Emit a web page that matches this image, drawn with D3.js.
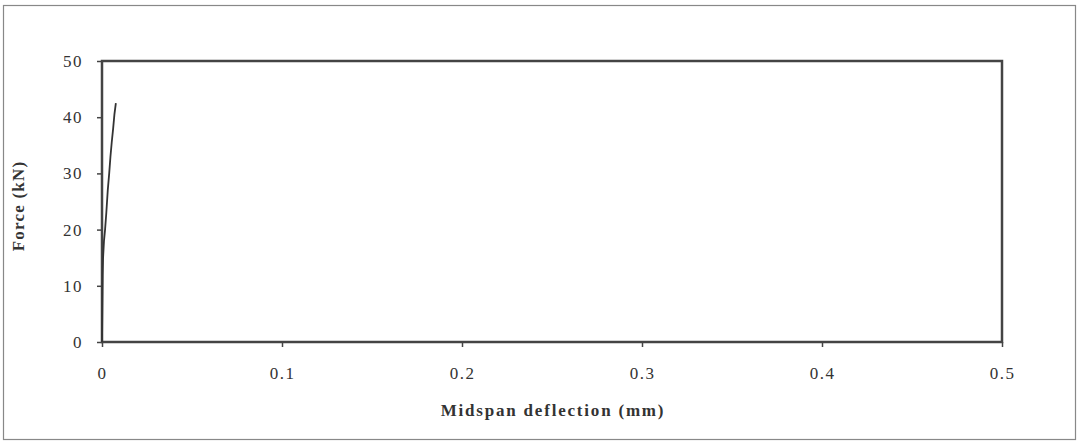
<!DOCTYPE html>
<html><head><meta charset="utf-8">
<script src="https://cdn.jsdelivr.net/npm/d3@7"></script>
<style>body{margin:0;background:#fff}svg{display:block}text{font-family:"Liberation Serif","Times New Roman",serif;fill:#333}</style>
</head><body><svg id="c" width="1078" height="444"></svg>
<script>
const deflection = [0, 0.0001, 0.0002, 0.0003, 0.0004, 0.0006, 0.0011, 0.0017, 0.0024, 0.0032, 0.0040, 0.0047, 0.0054, 0.0062, 0.0069, 0.0077];
const force      = [0, 3, 6, 9, 12, 15, 18, 20, 23, 27, 30, 33, 35.5, 38, 40.5, 42.5];
const xTicks = [0, 0.1, 0.2, 0.3, 0.4, 0.5];
const yTicks = [0, 10, 20, 30, 40, 50];
const xTitle = "Midspan deflection (mm)";
const yTitle = "Force (kN)";

const svg = d3.select("#c");
svg.append("rect").attr("x",3.5).attr("y",5.5).attr("width",1072).attr("height",434)
  .attr("fill","none").attr("stroke","#888").attr("stroke-width",1.2);

const L=102, R=1002, T=61, B=342;
const x = d3.scaleLinear().domain([0,0.5]).range([L,R]);
const y = d3.scaleLinear().domain([0,50]).range([B,T]);

svg.append("rect").attr("x",L).attr("y",T).attr("width",R-L).attr("height",B-T)
  .attr("fill","none").attr("stroke","#444").attr("stroke-width",2.5);

const xa = svg.append("g").attr("transform",`translate(0,${B})`)
  .call(d3.axisBottom(x).tickValues(xTicks).tickSize(5).tickPadding(20).tickFormat(d=>d===0?"0":d3.format(".1f")(d)));
const ya = svg.append("g").attr("transform",`translate(${L},0)`)
  .call(d3.axisLeft(y).tickValues(yTicks).tickSize(5).tickPadding(14));
[xa,ya].forEach(a=>{
  a.select(".domain").remove();
  a.selectAll("line").attr("stroke","#444").attr("stroke-width",1.5);
  a.selectAll("text").style("font-size","17px").style("letter-spacing","1.5px").attr("fill","#333");
});

svg.append("path").datum(deflection.map((d,i)=>[d,force[i]]))
  .attr("d",d3.line().x(d=>x(d[0])).y(d=>y(d[1])))
  .attr("fill","none").attr("stroke","#333").attr("stroke-width",1.8);

svg.append("text").attr("x",553).attr("y",416).attr("text-anchor","middle")
  .style("font-size","17px").style("letter-spacing","1.8px").style("font-weight","bold").text(xTitle);
svg.append("text").attr("transform","translate(24,206) rotate(-90)").attr("text-anchor","middle")
  .style("font-size","17px").style("letter-spacing","1.2px").style("font-weight","bold").text(yTitle);
</script></body></html>
